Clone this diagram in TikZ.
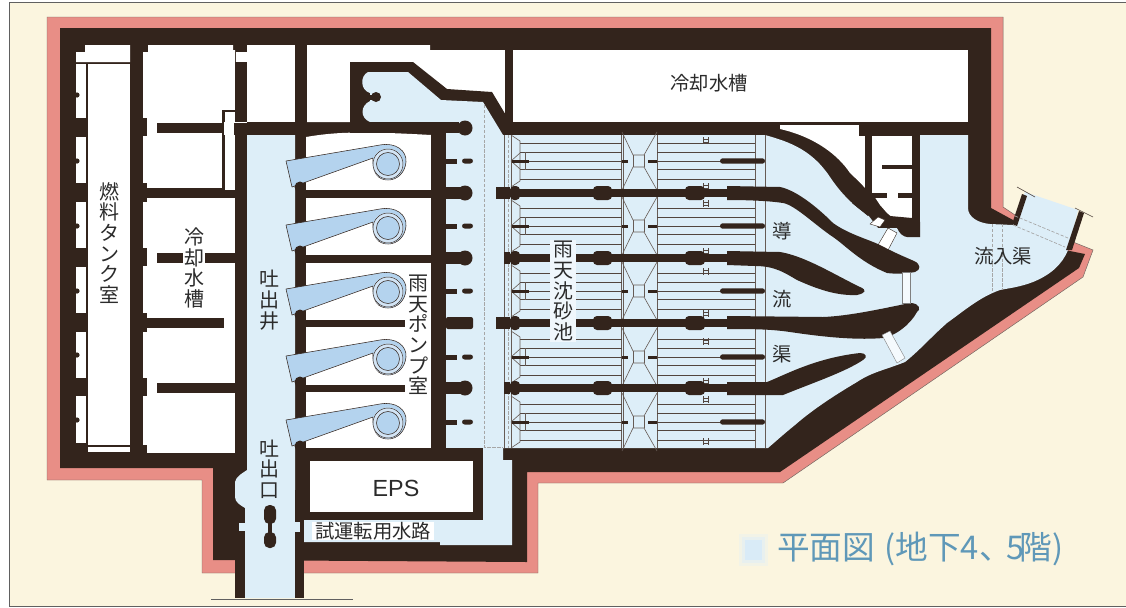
\documentclass[tikz,border=0pt]{standalone}
\usepackage{fontspec}
\newfontfamily\cjk{Noto Sans CJK JP}
\setmainfont{Liberation Sans}
\definecolor{wallc}{HTML}{33241C}
\definecolor{pinkc}{HTML}{E88E86}
\definecolor{creamc}{HTML}{FBF5DF}
\definecolor{waterc}{HTML}{DDEEF8}
\definecolor{pumpc}{HTML}{B4D3EE}
\definecolor{titlec}{HTML}{5F98B8}
\definecolor{inkc}{HTML}{2B2B2B}
\tikzset{
  wall/.style={fill=wallc,draw=none},
  room/.style={fill=white,draw=none},
  thinl/.style={draw=wallc!85,line width=0.45pt},
  greyl/.style={draw=wallc!75,line width=0.45pt},
  dashl/.style={draw=gray!70,line width=0.4pt,dash pattern=on 2.5pt off 1.2pt},
  vlabel/.style={font=\cjk\fontsize{15}{15.5}\selectfont,text=inkc,align=center,inner sep=1pt},
  hlabel/.style={font=\cjk\fontsize{14.5}{15}\selectfont,text=inkc,inner sep=1pt},
}
\newcommand{\pumpunit}[1]{%
  \begin{scope}[yshift=#1*-0.75pt]
    \fill[pumpc,draw=wallc,line width=0.4pt,line join=round] (286,-2) -- (380,-18) .. controls (396,-21) and (407,-12) .. (406,-1) .. controls (405,10) and (397,17) .. (388,17) .. controls (378,17) and (372,10) .. (373,-5) -- (292,24) -- cycle;
    \fill[pumpc!60] (388,1) circle[radius=15.5];
    \draw[wallc,line width=0.35pt] (388,1) circle[radius=15];
    \fill[pumpc,draw=wallc,line width=0.4pt] (388,1) circle[radius=11.5];
  \end{scope}}
\begin{document}
\begin{tikzpicture}[x=0.75pt,y=-0.75pt]
\useasboundingbox (0,0) rectangle (1126,607);
\fill[white] (0,0) rectangle (1126,607);
\fill[creamc] (9,3) rectangle (1126,606);
\draw[gray!75!black,line width=0.6pt] (1126,2.5) -- (9,2.5) -- (9,606) -- (1126,606);
% pink
\path[fill=pinkc,draw=wallc!70,line width=0.35pt] (47,17) -- (1003,17) -- (1003,207) -- (1015,215) -- (1068,250) -- (1073,242) -- (1093,250) -- (1083,277) -- (783,483) -- (538,483) -- (538,573) -- (202,573) -- (202,480) -- (47,480) -- cycle;
% dark mass
\path[wall] (60,28) -- (991,28) -- (991,208) -- (1013,220) -- (1013,226) -- (1065,250) -- (1085,254) -- (1079,268) -- (780,472) -- (527,472) -- (527,562) -- (213,560) -- (213,468) -- (60,468) -- cycle;
% fuel tank column
\path[room] (85,45) -- (130,45) -- (130,62) -- (76,62) -- (76,52) -- (85,52) -- cycle;
\path[room] (76,64) rectangle (86,118);
\path[room] (76,137) rectangle (86,183);
\path[room] (76,202) rectangle (86,248);
\path[room] (76,267) rectangle (86,313);
\path[room] (76,332) rectangle (86,378);
\path[room] (76,396) rectangle (86,443);
\path[room] (87.5,64) rectangle (130,445);
\path[room] (87.5,447) rectangle (130,452);
\draw[thinl] (76,62.5) -- (130,62.5);
\foreach \yy in {95,161,226,291,355,420} \fill[wallc] (77,\yy) circle[radius=2.6];
% second column rooms
\path[room] (143,45) -- (233,45) -- (233,50) -- (235,50) -- (235,110) -- (223,110) -- (223,188) -- (143,188) -- cycle;
\path[room] (143,198) rectangle (235,453);
\path[room] (224.5,111) rectangle (235,190);
\path[room] (223,122) rectangle (247,135);
\path[room] (247,45) rectangle (295,122);
\path[room] (236,52) rectangle (247,62);
\path[wall] (222,110) rectangle (247,112);
\path[wall] (222,110) rectangle (224,198);
\path[wall] (235,62) rectangle (247,110);
\path[wall] (235,125) rectangle (247,470);
\path[wall] (234,123) rectangle (247,135);
\foreach \yy in {118,248,378} \path[wall] (143,\yy) rectangle (147,\yy+18);
\path[wall] (143,45) rectangle (148,52);
\path[wall] (143,183) rectangle (147,202);
\path[wall] (143,313) rectangle (147,332);
\path[wall] (143,445) rectangle (147,453);
\path[wall] (157,123) rectangle (222,133);
\path[wall] (143,188) rectangle (222,198);
\path[wall] (157,253) rectangle (235,263);
\path[wall] (143,318) rectangle (224,328);
\path[wall] (157,383) rectangle (235,393);
% white rooms above
\path[room] (307,45) -- (430,45) -- (430,50) -- (505,50) -- (505,118) -- (350,118) -- (350,122) -- (307,122) -- cycle;
\path[wall] (505,50) rectangle (513,122);
\path[room] (513,50) rectangle (968,122);
\path[wall] (350,124) -- (350,62) -- (413,62) -- (447,89) -- (492,92) -- (510,122) -- (510,130) -- (350,130) -- cycle;
% pump rooms
\path[room] (306,137) .. controls (335,132) and (360,131) .. (431,135) -- (431,448) -- (306,448) -- cycle;
\path[wall] (306,190) rectangle (431,198);
\path[wall] (306,255) rectangle (431,263);
\path[wall] (306,320) rectangle (405,327);
\path[wall] (306,385) rectangle (405,392);
% water (main)
\path[fill=waterc]
  (368,72) -- (408,72) -- (441,100) -- (483,102) -- (503,135) -- (765,135)
  .. controls (790,142) and (812,150) .. (830,177)
  .. controls (842,195) and (855,207) .. (868,215)
  -- (878,228) -- (897,228)
  .. controls (899,234) and (904,237) .. (907,237) -- (920,237) -- (920,135) -- (968,135) -- (968,208)
  .. controls (968,217) and (978,223) .. (990,224) -- (1013,225)
  -- (1025,192) -- (1078,210) -- (1068,250)
  .. controls (1062,265) and (1050,275) .. (1033,282)
  .. controls (1020,287) and (1010,288) .. (1000,290)
  .. controls (980,297) and (965,310) .. (947,323)
  .. controls (930,338) and (920,350) .. (905,362)
  .. controls (885,370) and (872,372) .. (857,382)
  .. controls (835,395) and (812,410) .. (795,425)
  .. controls (785,433) and (775,442) .. (768,448)
  -- (503,448) -- (503,460) -- (512,460) -- (512,545) -- (440,545) -- (440,542) -- (300,542) -- (300,520) -- (483,520) -- (483,448)
  -- (446,448) -- (446,122) -- (370,122) .. controls (360,118) and (360,106) .. (370,101)
  -- (370,93) .. controls (360,90) and (360,76) .. (368,72) -- cycle;
\fill[wallc] (366,94.5) rectangle (374,99.5);
\fill[wallc] (376,97) circle[radius=5];
\path[wall] (350,122) rectangle (459,133);
\fill[wallc] (465,128) circle[radius=7.5];
% white area between top wall curve and service room
\path[room] (780,125) -- (859,125) -- (859,135) -- (865,135) -- (865,188) .. controls (858,180) and (855,178) .. (850,173) .. controls (838,155) and (815,137) .. (780,129) -- cycle;
\path[wall] (859,125) rectangle (920,136);
\path[wall] (865,135) rectangle (872,190);
\path[wall] (862,187) -- (880,205) -- (868,216) -- (852,203) -- cycle;
\path[room] (872,136) -- (912,136) -- (912,218) -- (893,218) -- (887,213) -- (880,205) -- (872,193) -- cycle;
\path[wall] (912,136) rectangle (920,237);
\path[wall] (882,165) rectangle (912,169);
\path[wall] (872,193) rectangle (887,198);
\path[wall] (898,193) rectangle (912,198);
\path[wall] (890,216) -- (912,218) -- (920,222) -- (920,237) -- (907,237) -- (897,228) -- cycle;
% gates
\path[fill=white,draw=wallc,line width=0.3pt] (888,228) -- (897,233) -- (887,252) -- (878,245) -- cycle;
\path[fill=white,draw=wallc,line width=0.3pt] (870,224) -- (878,217) -- (885,220) -- (880,227) -- cycle;
% inner pump-hall walls
\path[wall] (295,135) rectangle (306,490);
\path[wall] (431,122) rectangle (446,448);
\path[wall] (300,448) rectangle (483,461);
\path[room] (310,461) rectangle (473,512);
\path[wall] (473,448) rectangle (483,520);
\path[wall] (300,512) rectangle (483,520);
% outlet well
\path[fill=waterc] (247,135) -- (295,135) -- (295,598) -- (245,598) -- (245,508)
  .. controls (240,505) and (235,502) .. (235,497) -- (235,482) .. controls (236,476) and (243,473) .. (247,470) -- cycle;
\path[wall] (235,545) rectangle (245,598);
\path[wall] (295,490) rectangle (304,598);
\path[wall] (240,510) rectangle (245,522);
\path[fill=waterc] (239,523) rectangle (246,531);
\path[fill=waterc] (294,522) rectangle (300,532);
\path[wall] (213,530) rectangle (235,560);
\draw[gray!75!black,line width=0.6pt] (211,599) -- (353,599);
\path[wall,rounded corners=4pt] (264,505) rectangle (276,524);
\path[wall] (268,522) rectangle (272,536);
\path[wall,rounded corners=4pt] (264,532) rectangle (276,548);
% pumps
\pumpunit{163}\pumpunit{227}\pumpunit{291}\pumpunit{358}\pumpunit{422}
\foreach \yy in {187,251,315,382,446} \fill[wallc] (300,\yy) circle[radius=5.5];
% piers on pump-hall east wall
\foreach \yy in {193,258,388} {\path[wall] (446,\yy-6) rectangle (465,\yy+6); \fill[wallc] (465,\yy) circle[radius=7.5];}
\path[wall,rounded corners=1.5pt] (446,317) rectangle (473,329);
\foreach \yy in {161,226,291,357,422} {\path[wall] (446,\yy-2.5) rectangle (457,\yy+2.5); \path[wall,rounded corners=2pt] (462,\yy-2.5) rectangle (473,\yy+2.5);}
\draw[dashl] (484,105) -- (484,447) -- (503,447);
% basin lines
\draw[greyl] (504,135) -- (504,448);
\draw[greyl] (511,135) -- (511,448);
\draw[dashl] (508,135) -- (508,448);
\foreach \xx in {621,623,657,755,765} \draw[greyl] (\xx,135) -- (\xx,448);
\foreach \cy in {161,226,291,357,422} {
  \foreach \dd in {-18,-9,0,8,18} {
    \draw[thinl] (520,\cy+\dd) -- (622,\cy+\dd);
    \draw[thinl] (657,\cy+\dd) -- (755,\cy+\dd);
  }
  \fill[waterc] (624,\cy-25) rectangle (656,\cy+25);
  \draw[greyl] (622,\cy-29) -- (633,\cy-6) -- (644,\cy-6) -- (657,\cy-29);
  \draw[greyl] (622,\cy+29) -- (633,\cy+6) -- (644,\cy+6) -- (657,\cy+29);
  \draw[greyl] (633,\cy-6) -- (633,\cy+6) (644,\cy-6) -- (644,\cy+6);
  \draw[greyl] (511,\cy-26) -- (520,\cy-20) -- (520,\cy+20) -- (511,\cy+26);
  \draw[greyl] (520,\cy-8) -- (511,\cy) -- (520,\cy+8);
  \draw[greyl] (525,\cy-9) -- (525,\cy+9);
  \path[wall] (512,\cy-1.5) rectangle (529,\cy+1.5);
  \path[wall] (622,\cy-1.5) rectangle (628,\cy+1.5);
  \path[wall] (648,\cy-1.5) rectangle (657,\cy+1.5);
  \path[wall,rounded corners=2pt] (720,\cy-2.7) rectangle (765,\cy+2.7);
}
% ladders
\foreach \yy in {137,183,200,248,268,310,338,378,396,438} {
  \draw[thinl,line width=0.4pt] (703,\yy) -- (703,\yy+7) (708,\yy) -- (708,\yy+7) (703,\yy+2) -- (708,\yy+2) (703,\yy+5) -- (708,\yy+5);
}
% main piers in basin
\path[wall] (496,187) rectangle (510,199);
\path[wall] (504,252) rectangle (510,264);
\path[wall] (496,317) rectangle (510,329);
\path[wall] (504,382) rectangle (510,394);
\foreach \yy in {193,258,323,388} {
  \path[wall] (505,\yy-4) rectangle (730,\yy+4);
  \path[wall,rounded corners=3pt] (510,\yy-7) rectangle (520,\yy+7);
  \path[wall,rounded corners=3pt] (593,\yy-7) rectangle (612,\yy+7);
  \path[wall,rounded corners=3pt] (685,\yy-7) rectangle (705,\yy+7);
}
% guide piers
\path[wall] (727,186) -- (780,187) .. controls (795,190) and (815,205) .. (833,223) .. controls (848,234) and (870,240) .. (880,245) .. controls (895,253) and (905,257) .. (914,261) .. controls (921,264) and (921,270) .. (915,272) .. controls (905,274) and (895,274) .. (887,273) .. controls (860,262) and (845,245) .. (833,237) .. controls (815,225) and (795,205) .. (783,203) .. controls (770,201) and (750,200) .. (727,200) -- cycle;
\path[wall] (727,251) -- (780,252) .. controls (805,256) and (835,275) .. (860,287) .. controls (867,290) and (866,293) .. (857,295) .. controls (835,296) and (815,288) .. (797,280) .. controls (785,273) and (775,266) .. (755,266) -- (727,265) -- cycle;
\path[wall] (727,316) -- (823,317) .. controls (850,316) and (885,308) .. (910,303) .. controls (920,303) and (921,310) .. (917,312) .. controls (910,325) and (895,336) .. (883,338) .. controls (860,340) and (830,338) .. (790,332) .. controls (770,329) and (750,329) .. (727,329) -- cycle;
\path[wall] (727,382) -- (767,382) .. controls (785,375) and (815,358) .. (860,353) .. controls (866,353) and (868,357) .. (863,360) .. controls (845,372) and (815,382) .. (783,395) -- (727,395) -- cycle;
% more gates
\path[fill=white!70!waterc,draw=gray,line width=0.3pt] (902,272) rectangle (910,303);
\path[fill=white!70!waterc,draw=gray,line width=0.3pt] (882,335) -- (890,331) -- (905,358) -- (897,363) -- cycle;
% inlet walls
\path[wall] (1022,194) -- (1027,196) -- (1017,226) -- (1012,224) -- cycle;
\draw[thinl] (1017,187) -- (1035,197);
\path[wall] (1079,211) -- (1084,213) -- (1072,250) -- (1066,250) -- cycle;
\draw[thinl] (1075,208) -- (1093,217);
\draw[dashl,line width=0.5pt] (1015,216) -- (1068,238);
\draw[dashl,line width=0.5pt] (1013,225) -- (1065,247);
\draw[dashl,line width=0.5pt] (992,224) -- (992,292);
\draw[dashl,line width=0.5pt] (1002,224) -- (1002,290);
% labels
\node[vlabel,fill=white,inner xsep=0pt,inner ysep=0pt] at (109,243) {燃\\料\\タ\\ン\\ク\\室};
\node[vlabel,fill=white,inner xsep=1pt,inner ysep=0pt] at (194,268) {冷\\却\\水\\槽};
\node[vlabel] at (269,300) {吐\\出\\井};
\node[vlabel] at (269,469) {吐\\出\\口};
\node[vlabel,fill=white,inner xsep=1pt,inner ysep=0pt] at (418,335) {雨\\天\\ポ\\ン\\プ\\室};
\node[vlabel,fill=white!55!waterc,inner xsep=2pt,inner ysep=1pt] at (563,291) {雨\\天\\沈\\砂\\池};
\node[hlabel] at (782,231) {導};
\node[hlabel] at (782,299) {流};
\node[hlabel] at (782,354) {渠};
\node[hlabel] at (1003,256) {流入渠};
\node[hlabel] at (709,83) {冷却水槽};
\node[font=\fontsize{17.5}{18}\selectfont,text=inkc,inner sep=0pt] at (396,488) {EPS};
\node[hlabel,fill=white,inner xsep=2pt,inner ysep=0pt] at (373,531) {試運転用水路};
\fill[waterc!30!creamc] (739,534) rectangle (768,566);
\fill[waterc!65!creamc] (742,537) rectangle (765,563);
\fill[waterc!90!pumpc] (745,540) rectangle (762,560);
\node[font=\cjk\fontsize{24.5}{26}\selectfont,text=titlec,anchor=west,inner sep=0pt] at (777,549) {平面図\hspace{7pt}(地下4、\hspace{-3.75pt}5\hspace{-3.75pt}階)};
\end{tikzpicture}
\end{document}
